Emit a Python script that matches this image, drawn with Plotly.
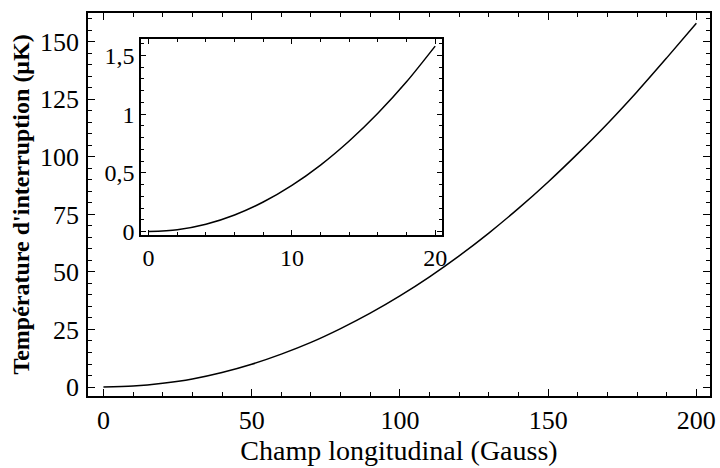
import plotly.graph_objects as go

# courbe principale : champ (G) -> température (µK)
champ = [0, 10, 20, 30, 40, 50, 60, 70, 80, 90, 100,
         110, 120, 130, 140, 150, 160, 170, 180, 190, 200]
temp = [0, 0.4, 1.6, 3.5, 6.3, 9.9, 14.3, 19.4, 25.4, 32.1, 39.6,
        47.9, 57.0, 66.9, 77.6, 89.1, 101.4, 114.4, 128.3, 143.0, 158.0]

# encart : zoom sur 0-20 G
champ_zoom = [0, 2, 4, 6, 8, 10, 12, 14, 16, 18, 20]
temp_zoom = [0, 0.016, 0.063, 0.142, 0.252, 0.394,
             0.567, 0.772, 1.008, 1.276, 1.58]

ytick_main = [0, 25, 50, 75, 100, 125, 150]
ytick_zoom = [0, 0.5, 1, 1.5]
ytext_zoom = ["0", "0,5", "1", "1,5"]

police = "Liberation Serif, Times New Roman, serif"

fig = go.Figure()

fig.add_trace(go.Scatter(
    x=champ, y=temp, mode="lines",
    line=dict(color="black", width=1.5, shape="spline", smoothing=0.8),
    showlegend=False
))
fig.add_trace(go.Scatter(
    x=champ_zoom, y=temp_zoom, mode="lines",
    line=dict(color="black", width=1.5, shape="spline", smoothing=0.8),
    xaxis="x2", yaxis="y2", showlegend=False
))

axe = dict(showline=True, linecolor="black", linewidth=1.5, mirror="ticks",
           ticks="inside", ticklen=7, tickcolor="black", tickwidth=1,
           showgrid=False, zeroline=False, automargin=False)

fig.update_layout(
    width=720, height=468,
    margin=dict(l=88, r=10, t=13, b=72),
    paper_bgcolor="white", plot_bgcolor="white",
    font=dict(family=police, color="black", size=26),
    xaxis=dict(axe, range=[-5.2, 204.6], tickvals=[0, 50, 100, 150, 200],
               minor=dict(dtick=10, ticks="inside", ticklen=4, tickcolor="black"),
               tickfont=dict(size=26), ticklabelstandoff=0,
               title=dict(text="Champ longitudinal (Gauss)", font=dict(size=28), standoff=3)),
    yaxis=dict(axe, range=[-3.9, 162.5], tickvals=ytick_main,
               minor=dict(dtick=5, ticks="inside", ticklen=4, tickcolor="black"),
               tickfont=dict(size=26), ticklabelstandoff=2,
               title=dict(text="<b>Température d'interruption (μK)</b>",
                          font=dict(size=24), standoff=4)),
    xaxis2=dict(axe, domain=[0.0852, 0.569], anchor="y2", range=[-0.53, 20.47],
                tickvals=[0, 10, 20], tickfont=dict(size=24), ticklen=5,
                minor=dict(dtick=2, ticks="inside", ticklen=3, tickcolor="black")),
    yaxis2=dict(axe, domain=[0.420, 0.932], anchor="x2", range=[-0.03, 1.64],
                tickvals=ytick_zoom, ticktext=ytext_zoom, tickfont=dict(size=24), ticklen=5,
                minor=dict(dtick=0.1, ticks="inside", ticklen=3, tickcolor="black")),
)

# pas de marge par défaut du navigateur, pas de barre d'outils
fig.write_html("out.html", config={"displayModeBar": False},
               post_script="document.body.style.margin='0';")
